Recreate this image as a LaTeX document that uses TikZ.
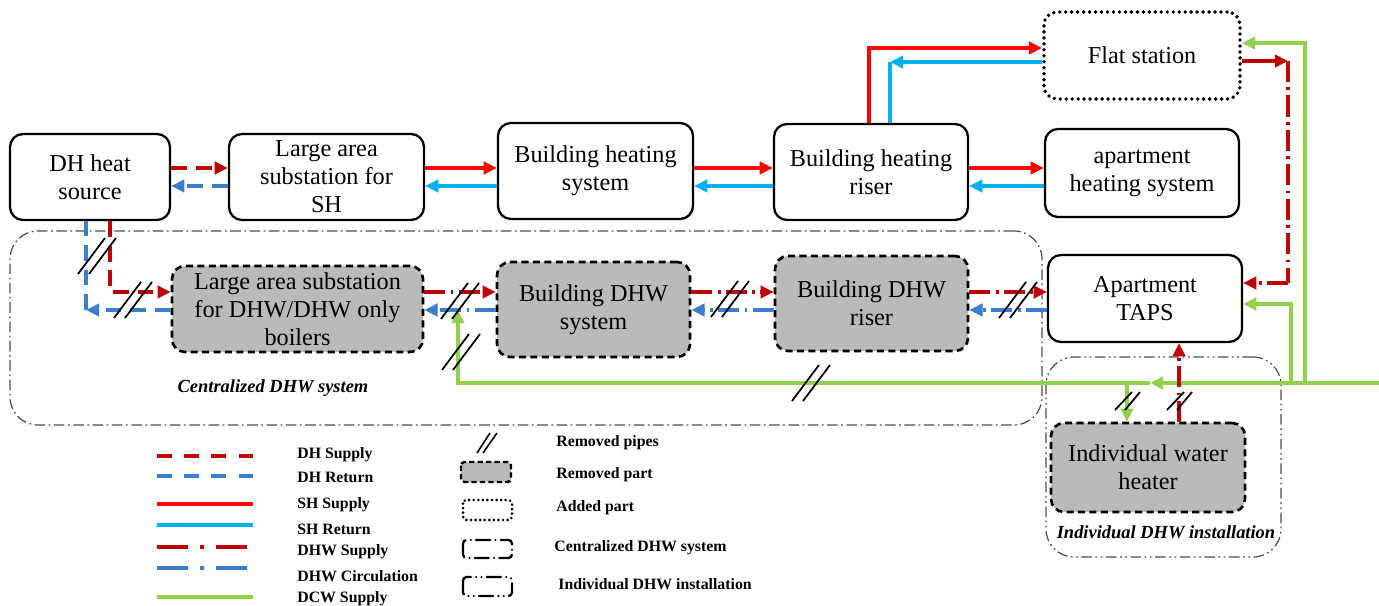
\documentclass[tikz,border=0pt]{standalone}
\usepackage{fontspec}
\setmainfont{Liberation Serif}
\usetikzlibrary{arrows.meta}
\usetikzlibrary{positioning}
\usetikzlibrary{calc}
\definecolor{dhred}{RGB}{192,0,0}
\definecolor{shred}{RGB}{255,0,0}
\definecolor{shblue}{RGB}{0,176,240}
\definecolor{dhblue}{RGB}{60,125,205}
\definecolor{dcwgreen}{RGB}{146,208,80}
\tikzstyle{block} = [draw, rounded corners=2.6mm, line width=1.3pt, fill=white,
  align=center, inner sep=2pt, font=\fontsize{13.8}{16}\selectfont]
\tikzstyle{removed} = [block, fill=black!27, line width=1.5pt, dash pattern=on 4pt off 2.5pt]
\tikzstyle{added} = [block, line width=2.2pt, line cap=round, dash pattern=on 0pt off 3.4pt]
\tikzstyle{arr} = [-{Triangle[length=7.5pt,width=7pt]}]
\tikzstyle{pipe} = [line width=2.1pt]
\tikzstyle{dhsup} = [pipe, dhred, dash pattern=on 9pt off 5pt]
\tikzstyle{dhret} = [pipe, dhblue, dash pattern=on 9pt off 5pt]
\tikzstyle{shsup} = [pipe, shred]
\tikzstyle{shret} = [pipe, shblue]
\tikzstyle{dhwsup} = [pipe, dhred, dash pattern=on 12pt off 3pt on 1.6pt off 3pt]
\tikzstyle{dhwcir} = [pipe, dhblue, dash pattern=on 12pt off 3pt on 1.6pt off 3pt]
\tikzstyle{dcw} = [pipe, dcwgreen]
\begin{document}
\begin{tikzpicture}[x=0.2mm, y=-0.2mm,
        cent/.style={draw=black!70, line width=0.7pt, rounded corners=5.6mm,
            dash pattern=on 6pt off 2pt on 1pt off 2pt},
        indiv/.style={draw=black!70, line width=0.7pt, rounded corners=5.6mm,
            dash pattern=on 6pt off 2pt on 1pt off 2pt on 1pt off 2pt},
        grplbl/.style={font=\fontsize{10.5}{12}\bfseries\itshape\selectfont},
        legtext/.style={anchor=west, inner sep=0pt, font=\fontsize{9}{10}\bfseries\selectfont},
        lgdhs/.style={dhsup, dash pattern=on 8.5pt off 7pt},
        lgdhr/.style={dhret, dash pattern=on 8.5pt off 7pt},
        lgdhws/.style={dhwsup, dash pattern=on 17.5pt off 7pt on 2pt off 7pt},
        lgdhwc/.style={dhwcir, dash pattern=on 17.5pt off 7pt on 2pt off 7pt},
        cutmark/.pic={\draw[line width=1pt] (-19,18) -- (8,-18) (-8,18) -- (19,-18);},
        cutsmall/.pic={\draw[line width=1pt] (-13,9) -- (4,-9) (-3,9) -- (12,-9);},
        cutleg/.pic={\draw[line width=0.9pt] (-10,10) -- (3,-10) (-4,10) -- (10,-10);}]
        \useasboundingbox (0,0) rectangle (1379,606);
        %% Groups
        \node [cent, minimum width=206.4mm, minimum height=38.8mm] at (526,328) (cent) {};
        \node [grplbl] at (273,388) (centlbl) {Centralized DHW system};
        \node [indiv, minimum width=47mm, minimum height=40mm] at (1163.5,457) (indiv) {};
        \node [grplbl] at (1166,532) (indivlbl) {Individual DHW installation};
        %% Vertices
        \node [block, minimum width=32mm, minimum height=17.2mm] at (90,177) (src) {DH heat\\source};
        \node [block, minimum width=39mm, minimum height=17.2mm] at (326.5,177) (subSH) {Large area\\substation for\\SH};
        \node [block, minimum width=39mm, minimum height=19.2mm] at (595.5,171) (bhs) {Building heating\\system};
        \node [block, minimum width=38.8mm, minimum height=19.2mm] at (871,172) (bhr) {Building heating\\riser};
        \node [block, minimum width=38.8mm, minimum height=17.6mm] at (1142,173) (aph) {apartment\\heating system};
        \node [added, minimum width=39.2mm, minimum height=17.4mm] at (1142,55.5) (flat) {Flat station};
        \node [block, minimum width=38.8mm, minimum height=17.4mm] at (1145,298.5) (taps) {Apartment\\TAPS};
        \node [removed, minimum width=50.2mm, minimum height=17.2mm] at (297.5,309) (subDHW) {Large area substation\\for DHW/DHW only\\boilers};
        \node [removed, minimum width=38.6mm, minimum height=19mm] at (593.5,309.5) (bdhw) {Building DHW\\system};
        \node [removed, minimum width=38.6mm, minimum height=19mm] at (871.5,303.5) (bdhr) {Building DHW\\riser};
        \node [removed, minimum width=38.8mm, minimum height=17.8mm] at (1148,467.5) (heater) {Individual water\\heater};
        %% Pipe levels and bends
        \coordinate (ys) at (0,168);
        \coordinate (yr) at (0,186);
        \coordinate (ws) at (0,292);
        \coordinate (wc) at (0,310);
        \coordinate (fs) at (869,48);
        \coordinate (fr) at (890,62);
        \coordinate (dr) at (1288,61);
        \coordinate (dt) at (1288,283);
        \coordinate (p1) at (110,292);
        \coordinate (p2) at (86,310);
        \coordinate (gin) at (1379,383);
        \coordinate (gmid) at (1150,383);
        \coordinate (gup) at (458,383);
        \coordinate (g1) at (1291,304);
        \coordinate (g2) at (1305,43);
        \coordinate (g3) at (1127,383);
        \coordinate (h3) at (1179,383);
        %% Arcs
        \draw [dhsup, arr] (src.east |- ys) -- (subSH.west |- ys);
        \draw [dhret, arr] (subSH.west |- yr) -- (src.east |- yr);
        \draw [shsup, arr] (subSH.east |- ys) -- (bhs.west |- ys);
        \draw [shret, arr] (bhs.west |- yr) -- (subSH.east |- yr);
        \draw [shsup, arr] (bhs.east |- ys) -- (bhr.west |- ys);
        \draw [shret, arr] (bhr.west |- yr) -- (bhs.east |- yr);
        \draw [shsup, arr] (bhr.east |- ys) -- (aph.west |- ys);
        \draw [shret, arr] (aph.west |- yr) -- (bhr.east |- yr);
        \draw [shsup, arr] (bhr.north -| fs) -- (fs) -- (flat.west |- fs);
        \draw [shret, arr] (flat.west |- fr) -- (fr);
        \draw [shret] (fr) -- (bhr.north -| fr);
        \draw [shsup, dhred, arr] (flat.east |- dr) -- (dr);
        \draw [dhwsup] (dr) -- (dt);
        \draw [dhwsup, arr] (dt) -- (taps.east |- dt);
        \draw [dhsup, arr] (src.south -| p1) -- (p1) -- (subDHW.west |- p1);
        \draw [dhret, arr] (subDHW.west |- p2) -- (p2);
        \draw [dhret] (p2) -- (src.south -| p2);
        \draw [dhwsup, arr] (subDHW.east |- ws) -- (bdhw.west |- ws);
        \draw [dhwcir, arr] (bdhw.west |- wc) -- (subDHW.east |- wc);
        \draw [dhwsup, arr] (bdhw.east |- ws) -- (bdhr.west |- ws);
        \draw [dhwcir, arr] (bdhr.west |- wc) -- (bdhw.east |- wc);
        \draw [dhwsup, arr] (bdhr.east |- ws) -- (taps.west |- ws);
        \draw [dhwcir, arr] (taps.west |- wc) -- (bdhr.east |- wc);
        \draw [dcw, arr] (gin) -- (gmid);
        \draw [dcw, arr] (gmid) -- (gup) -- (gup |- wc);
        \draw [dcw, arr] (gin -| g1) -- (g1) -- (taps.east |- g1);
        \draw [dcw, arr] (gin -| g2) -- (g2) -- (flat.east |- g2);
        \draw [dcw, arr] (g3) -- (heater.north -| g3);
        \draw [dhwsup, arr] (heater.north -| h3) -- (taps.south -| h3);
        %% Removed pipes
        \pic at (97,256) {cutmark};
        \pic at (133,300) {cutmark};
        \pic at (460,301) {cutmark};
        \pic at (461,352) {cutmark};
        \pic at (730,299) {cutmark};
        \pic at (1018,300) {cutmark};
        \pic at (811,383) {cutmark};
        \pic at (1128,401) {cutsmall};
        \pic at (1180,401) {cutsmall};
        %% Legend
        \foreach \sty/\txt/\yl/\yt in {lgdhs/DH Supply/456/455, lgdhr/DH Return/476/477,
            shsup/SH Supply/504/505, shret/SH Return/525/529, lgdhws/DHW Supply/547/552,
            lgdhwc/DHW Circulation/568/576, dcw/DCW Supply/597/599}{
            \draw [\sty] (157,\yl) -- (253,\yl);
            \node [legtext] at (297,\yt) (leg\yl) {\txt};
        }
        \pic at (487,443) {cutleg};
        \node [legtext] at (556,443) (lgcut) {Removed pipes};
        \draw [fill=black!27, line width=1.4pt, dash pattern=on 3pt off 1.8pt, rounded corners=2pt] (461,462) rectangle (511,482);
        \node [legtext] at (556,475) (lgrem) {Removed part};
        \draw [line width=1.7pt, line cap=round, dash pattern=on 0pt off 2.6pt, rounded corners=2pt] (463,500) rectangle (512,520);
        \node [legtext] at (556,508) (lgadd) {Added part};
        \draw [line width=1.3pt, line cap=round, dash pattern=on 8pt off 3pt on 0pt off 3pt, rounded corners=2pt] (463,540) rectangle (512,558);
        \node [legtext] at (554,548) (lgcent) {Centralized DHW system};
        \draw [line width=1.3pt, line cap=round, dash pattern=on 8pt off 3pt on 0pt off 3pt on 0pt off 3pt, rounded corners=2pt] (463,577) rectangle (512,596);
        \node [legtext] at (558,584) (lgind) {Individual DHW installation};
    \end{tikzpicture}
\end{document}
